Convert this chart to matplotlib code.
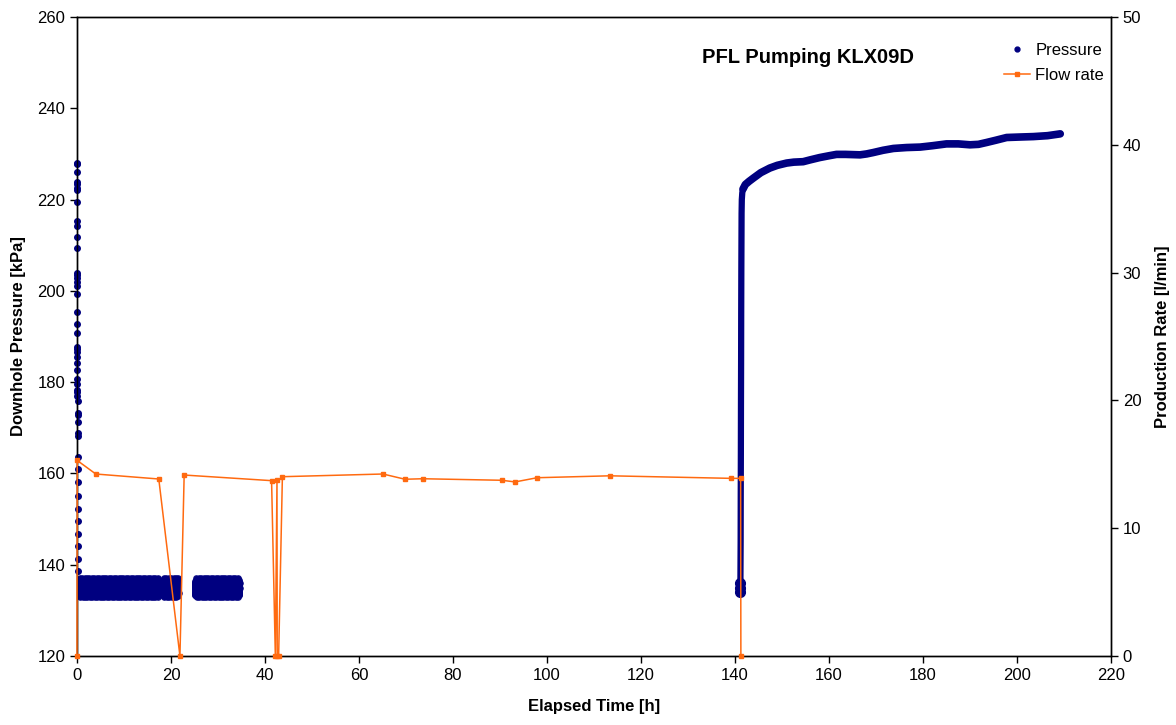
import numpy as np
import matplotlib
matplotlib.use("Agg")
import matplotlib.pyplot as plt
from matplotlib.lines import Line2D

plt.rcParams['font.family'] = ['Liberation Sans', 'DejaVu Sans']

# ---------------- data ----------------
# early pressure readings at test start (t ~ 0 h)
p_start_t = [0.00, 0.00, 0.01, 0.01, 0.01, 0.02, 0.02, 0.02, 0.03, 0.03, 0.03, 0.04,
             0.04, 0.04, 0.05, 0.05, 0.05, 0.06, 0.06, 0.06, 0.07, 0.07, 0.07, 0.08,
             0.08, 0.08, 0.09, 0.09, 0.09, 0.10, 0.10, 0.10, 0.11, 0.11, 0.11, 0.12,
             0.12, 0.12, 0.13, 0.13, 0.13, 0.14, 0.14, 0.14, 0.15, 0.15, 0.15, 0.16]
p_start_v = [228.1, 227.8, 226.0, 223.8, 223.4, 222.6, 222.2, 219.5, 215.4, 214.2,
             211.7, 209.4, 204.0, 203.5, 202.9, 201.9, 201.0, 199.3, 195.4, 192.7,
             190.8, 187.8, 187.3, 186.7, 185.4, 184.1, 182.7, 180.6, 179.7, 178.3,
             177.8, 177.0, 175.8, 173.2, 172.7, 171.3, 168.8, 168.3, 163.6, 161.0,
             158.2, 155.1, 152.3, 149.6, 146.8, 144.0, 141.2, 138.6]

# noisy pressure plateau during pumping (kPa), repeated readings
p_band_vals = [134.6, 135.8, 133.7, 135.1, 136.2, 134.2, 133.4, 135.5, 134.9, 136.4,
               133.9, 135.3, 134.4, 136.0, 133.6, 134.8, 135.9, 134.1, 133.3, 135.6,
               136.6, 134.5, 133.8, 135.2, 134.0, 136.1, 135.0, 133.5, 134.7, 135.7,
               136.3, 134.3, 133.2, 135.4, 134.6, 137.0, 133.9, 135.8, 134.2, 136.5,
               134.8, 133.6, 135.9, 132.9, 135.3, 134.1, 136.8]
p_band_segments = [(0.2, 17.4), (18.1, 21.6), (25.0, 34.6)]

# pressure jump at pump stop
p_jump_t = [141.05, 141.1, 141.15, 141.2, 141.22, 141.25, 141.27, 141.3, 141.32, 141.35,
            141.38, 141.4, 141.45, 141.55, 141.7]
p_jump_v = [134.0, 135.0, 136.0, 145.0, 155.0, 165.0, 175.0, 185.0, 195.0, 205.0,
            212.0, 217.0, 220.0, 221.5, 222.3]

# pressure recovery
p_rec_t = [141.7, 142.2, 143.0, 143.9, 145.5, 147.4, 149.0, 151.0, 152.5, 154.5,
           156.0, 158.0, 160.0, 161.6, 163.5, 166.6, 168.0, 169.4, 171.5, 173.7,
           176.5, 179.4, 182.0, 185.0, 187.5, 190.0, 191.8, 193.5, 195.5, 197.8,
           200.5, 203.5, 206.5, 209.2]
p_rec_v = [222.3, 223.3, 224.0, 224.7, 225.9, 226.9, 227.5, 228.0, 228.2, 228.3,
           228.7, 229.2, 229.6, 229.9, 229.9, 229.8, 230.0, 230.3, 230.8, 231.2,
           231.4, 231.5, 231.8, 232.2, 232.2, 232.0, 232.1, 232.5, 233.0, 233.6,
           233.7, 233.8, 234.0, 234.4]

# flow rate (l/min)
q_t = [0.0, 0.05, 4.0, 17.4, 21.9, 22.8, 41.4, 42.2, 42.55, 42.6, 42.9, 43.7,
       65.1, 69.8, 73.6, 90.4, 93.2, 97.9, 113.4, 139.2, 141.2, 141.25]
q_v = [0.0, 15.3, 14.24, 13.85, 0.0, 14.16, 13.72, 0.0, 13.75, 0.0, 0.0, 14.03,
       14.24, 13.83, 13.87, 13.75, 13.62, 13.95, 14.1, 13.9, 13.9, 0.0]

title = "PFL Pumping KLX09D"
x_ticks = list(range(0, 221, 20))
yl_ticks = list(range(120, 261, 20))
yr_ticks = list(range(0, 51, 10))

# ---------------- figure ----------------
navy = "#000080"
orange = "#FF6A10"

fig = plt.figure(figsize=(11.76, 7.25), dpi=100)
ax = fig.add_axes([77/1176, 69/725, 1034/1176, 639/725])
ax2 = ax.twinx()

# pressure band: tile the readings across each segment
for (t0, t1) in p_band_segments:
    tt = np.arange(t0, t1, 0.011)
    vv = np.resize(np.array(p_band_vals), tt.size)
    ax.plot(tt, vv, linestyle='none', marker='o', ms=3.8, color=navy, mec=navy,
            alpha=0.9, zorder=3)

ax.plot(p_start_t, p_start_v, linestyle='none', marker='o', ms=4, color=navy,
        clip_on=False, zorder=6)
ax.plot(p_jump_t, p_jump_v, color=navy, lw=4.5, solid_capstyle='round', zorder=3)
ax.plot(p_jump_t[:3], p_jump_v[:3], linestyle='none', marker='o', ms=7, color=navy, zorder=3)
ax.plot(p_rec_t, p_rec_v, color=navy, lw=5.5, solid_joinstyle='round',
        solid_capstyle='round', zorder=3)

ax2.plot(q_t, q_v, color=orange, lw=1.1, marker='s', ms=2.6, mfc=orange, mec=orange,
         clip_on=False, zorder=4)

ax.set_xlim(0, 220)
ax.set_ylim(120, 260)
ax2.set_ylim(0, 50)
ax.set_xticks(x_ticks)
ax.set_yticks(yl_ticks)
ax2.set_yticks(yr_ticks)

for a in (ax, ax2):
    a.tick_params(labelsize=12, direction='out', length=5, width=1, color='black')
    for s in a.spines.values():
        s.set_linewidth(1.0)
        s.set_color('black')

ax.set_xlabel("Elapsed Time [h]", fontsize=12, fontweight='bold', labelpad=12)
ax.set_ylabel("Downhole Pressure [kPa]", fontsize=12, fontweight='bold', labelpad=8)
ax2.set_ylabel("Production Rate [l/min]", fontsize=12, fontweight='bold', labelpad=10)

ax.text(0.707, 0.936, title, transform=ax.transAxes, fontsize=14.5, fontweight='bold',
        ha='center', va='center')

# legend
handles = [Line2D([], [], linestyle='none', marker='o', ms=3.5, color=navy),
           Line2D([], [], color=orange, lw=1.1, marker='s', ms=2.5)]
ax.legend(handles, ["Pressure", "Flow rate"], loc='upper right',
          bbox_to_anchor=(1.003, 0.975), frameon=False, fontsize=12,
          handlelength=1.6, handletextpad=0.3, labelspacing=0.6, borderaxespad=0.2)

fig.savefig("out.png", dpi=100, facecolor='white')
